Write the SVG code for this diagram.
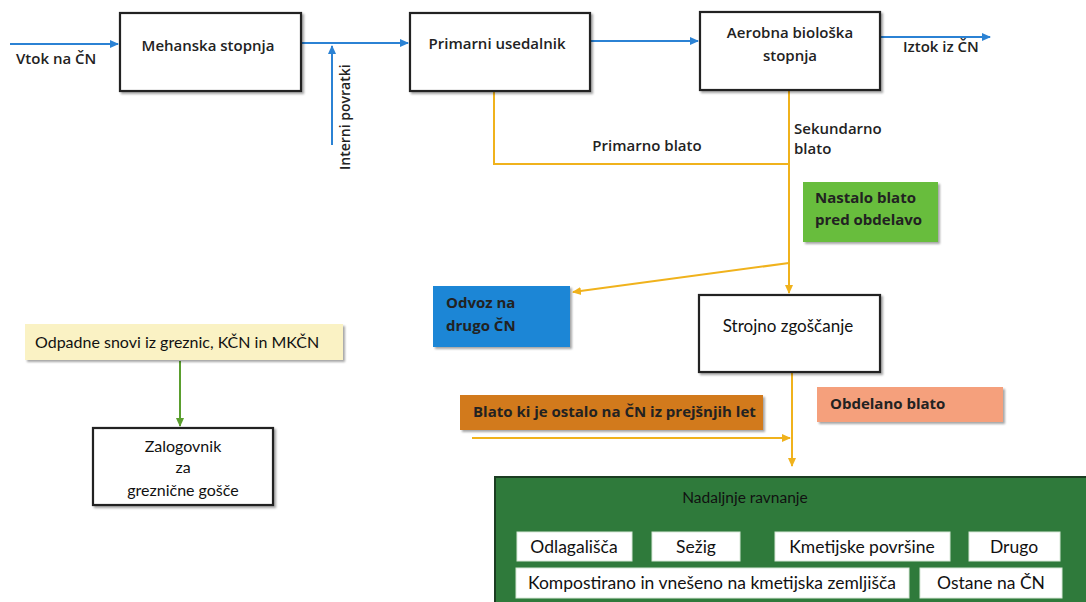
<svg xmlns="http://www.w3.org/2000/svg" width="1086" height="602" viewBox="0 0 1086 602">
<style>
.box{fill:#fff;stroke:#222;stroke-width:2.2;filter:url(#sh)}
.t{font-family:"Open Sans","Noto Sans",sans-serif;font-size:15px;font-weight:600;fill:#222}
.c{font-family:Lato,"Open Sans",sans-serif;font-size:16px;fill:#111}
.i{font-size:17.5px}
.b{font-weight:700}
.blue{stroke:#2b82d4;stroke-width:2;fill:none}
.yel{stroke:#f0b21c;stroke-width:2;fill:none}
.grn{stroke:#5a9e2e;stroke-width:2;fill:none}
.wb{fill:#fff;stroke:#d8e8d8;stroke-width:1}
</style>
<defs>
<filter id="sh" x="-5%" y="-5%" width="115%" height="125%"><feDropShadow dx="2" dy="2" stdDeviation="1.2" flood-color="#000" flood-opacity="0.35"/></filter>
<marker id="ab" markerWidth="10" markerHeight="10" refX="8" refY="5" orient="auto" markerUnits="userSpaceOnUse"><path d="M0,1 L9,5 L0,9 Z" fill="#2b82d4"/></marker>
<marker id="ay" markerWidth="10" markerHeight="10" refX="8" refY="5" orient="auto" markerUnits="userSpaceOnUse"><path d="M0,1 L9,5 L0,9 Z" fill="#f0b21c"/></marker>
<marker id="ag" markerWidth="10" markerHeight="10" refX="8" refY="5" orient="auto" markerUnits="userSpaceOnUse"><path d="M0,1 L9,5 L0,9 Z" fill="#5a9e2e"/></marker>
</defs>
<rect width="1086" height="602" fill="#fff"/>

<g id="connectors">
<line class="blue" x1="10" y1="44" x2="118" y2="44" marker-end="url(#ab)"/>
<line class="blue" x1="302" y1="43" x2="408" y2="43" marker-end="url(#ab)"/>
<line class="blue" x1="332" y1="145" x2="332" y2="46" marker-end="url(#ab)"/>
<line class="blue" x1="591" y1="41" x2="698" y2="41" marker-end="url(#ab)"/>
<line class="blue" x1="881" y1="37" x2="990" y2="37" marker-end="url(#ab)"/>
<polyline class="yel" points="494,92 494,164 789,164"/>
<line class="yel" x1="789" y1="91" x2="789" y2="293" marker-end="url(#ay)"/>
<line class="yel" x1="789" y1="263" x2="573" y2="292" marker-end="url(#ay)"/>
<line class="yel" x1="792" y1="373" x2="792" y2="466" marker-end="url(#ay)"/>
<line class="yel" x1="472" y1="438" x2="790" y2="438" marker-end="url(#ay)"/>
<line class="grn" x1="180" y1="361" x2="180" y2="426" marker-end="url(#ag)"/>
<text class="t" x="16" y="64">Vtok na ČN</text>
<text class="t" transform="translate(350,170) rotate(-90)" style="font-size:14px">Interni povratki</text>
<text class="t" x="903" y="52">Iztok iz ČN</text>
<text class="t" x="647" y="151" text-anchor="middle">Primarno blato</text>
<text class="t" x="794" y="134">Sekundarno</text>
<text class="t" x="794" y="154">blato</text>
</g>

<g id="mehanska">
<rect class="box" x="120" y="13" width="181" height="78"/>
<text class="t" x="208" y="51" text-anchor="middle">Mehanska stopnja</text>
</g>
<g id="primarni">
<rect class="box" x="410" y="13" width="180" height="78"/>
<text class="t" x="497" y="49" text-anchor="middle">Primarni usedalnik</text>
</g>
<g id="aerobna">
<rect class="box" x="700" y="12" width="180" height="78"/>
<text class="t" x="790" y="38" text-anchor="middle">Aerobna biološka</text>
<text class="t" x="790" y="61" text-anchor="middle">stopnja</text>
</g>
<g id="nastalo">
<rect x="803" y="182" width="135" height="60" fill="#68bd3c" filter="url(#sh)"/>
<text class="t b" x="815" y="203">Nastalo blato</text>
<text class="t b" x="815" y="225">pred obdelavo</text>
</g>
<g id="odvoz">
<rect x="433" y="286" width="137" height="61" fill="#1f86d6" filter="url(#sh)"/>
<text class="t b" x="446" y="308">Odvoz na</text>
<text class="t b" x="446" y="331">drugo ČN</text>
</g>
<g id="strojno">
<rect class="box" x="699" y="295" width="181" height="77"/>
<text class="c" x="788" y="332" text-anchor="middle" style="font-size:17px">Strojno zgoščanje</text>
</g>
<g id="preteklo">
<rect x="460" y="395" width="303" height="35" fill="#d27a1c" filter="url(#sh)"/>
<text class="t b" x="473" y="417">Blato ki je ostalo na ČN iz prejšnjih let</text>
</g>
<g id="obdelano">
<rect x="817" y="387" width="186" height="35" fill="#f5a07c" filter="url(#sh)"/>
<text class="t b" x="830" y="409">Obdelano blato</text>
</g>
<g id="odpadne">
<rect x="25" y="324" width="318" height="36" fill="#faf2c4" filter="url(#sh)"/>
<text class="c" x="35" y="348">Odpadne snovi iz greznic, KČN in MKČN</text>
</g>
<g id="zalogovnik">
<rect class="box" x="93" y="428" width="180" height="77"/>
<text class="c" x="183" y="452" text-anchor="middle">Zalogovnik</text>
<text class="c" x="183" y="473" text-anchor="middle">za</text>
<text class="c" x="183" y="496" text-anchor="middle">greznične gošče</text>
</g>
<g id="nadaljnje">
<rect x="495" y="477" width="600" height="130" fill="#2f7a3b" stroke="#1b3d22" stroke-width="2"/>
<text class="c" x="745" y="503" text-anchor="middle" style="font-size:15.5px">Nadaljnje ravnanje</text>
<rect class="wb" x="517" y="532" width="115" height="29"/>
<text class="c i" x="574" y="553" text-anchor="middle">Odlagališča</text>
<rect class="wb" x="652" y="532" width="88" height="29"/>
<text class="c i" x="696" y="553" text-anchor="middle">Sežig</text>
<rect class="wb" x="775" y="532" width="175" height="29"/>
<text class="c i" x="862" y="553" text-anchor="middle">Kmetijske površine</text>
<rect class="wb" x="969" y="532" width="91" height="29"/>
<text class="c i" x="1014" y="553" text-anchor="middle">Drugo</text>
<rect class="wb" x="516" y="568" width="393" height="30"/>
<text class="c i" x="712" y="589" text-anchor="middle">Kompostirano in vnešeno na kmetijska zemljišča</text>
<rect class="wb" x="920" y="568" width="142" height="30"/>
<text class="c i" x="991" y="589" text-anchor="middle">Ostane na ČN</text>
</g>
</svg>
